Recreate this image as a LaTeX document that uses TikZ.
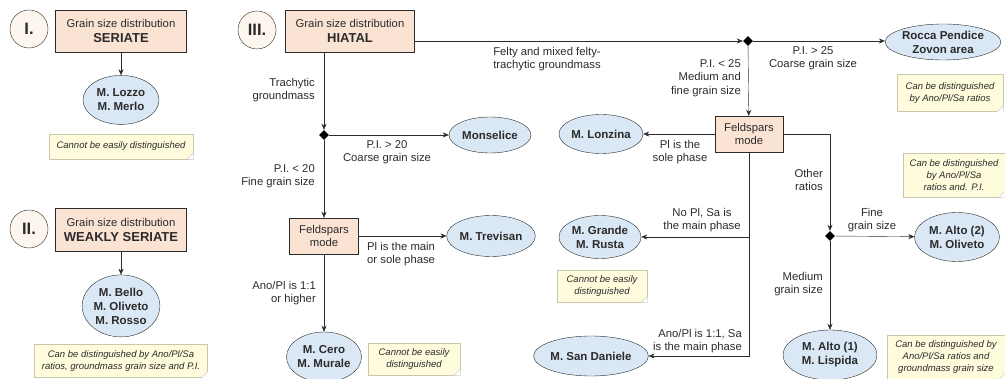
\documentclass[tikz,border=0pt]{standalone}
\usepackage{fontspec}
\setmainfont{Liberation Sans}
\usepackage{tikz}
\usetikzlibrary{arrows.meta,calc,positioning,shapes}

\definecolor{boxfill}{HTML}{FBE3D4}
\definecolor{ovalfill}{HTML}{DAE8F5}
\definecolor{notefill}{HTML}{FFFCDD}
\definecolor{noteline}{HTML}{C9C6AE}
\definecolor{markfill}{HTML}{FDF6EE}
\definecolor{ink}{HTML}{2B2B2B}

\begin{document}
\begin{tikzpicture}[x=1pt, y=-1pt,
					every node/.style={text=ink, font=\fontsize{11.3}{13.5}\selectfont},
					titlebox/.style={draw=ink, fill=boxfill, minimum height=42pt, align=center, inner sep=0pt},
					fspbox/.style={draw=ink, fill=boxfill, minimum width=69pt, minimum height=36pt, align=center, inner sep=0pt},
					siteoval/.style={ellipse, draw=ink, fill=ovalfill, align=center, inner sep=0pt,
						font=\fontsize{11.5}{14}\selectfont\bfseries},
					notebox/.style={draw=noteline, fill=notefill, align=center, inner sep=0pt,
						font=\fontsize{9.5}{12}\selectfont\itshape},
					romanmark/.style={circle, draw=ink, fill=markfill, minimum size=38pt, inner sep=0pt,
						font=\fontsize{16.5}{18}\selectfont\bfseries},
					splitdot/.style={diamond, fill=black, minimum size=10pt, inner sep=0pt},
					flow/.style={draw=ink, -{Stealth[length=6pt,width=5pt]}},
					cond/.style={inner sep=0pt}
				]
				\useasboundingbox (0,0) rectangle (1005,379);
				\newcommand{\gsd}[1]{Grain size distribution\\[2pt]{\fontsize{13}{15}\selectfont\bfseries #1}}

				% I. seriate
				\node[romanmark] (markI) at (29,29) {I.};
				\node[titlebox, minimum width=131pt] (gsI) at (121,31) {\gsd{SERIATE}};
				\node[siteoval, minimum width=76pt, minimum height=49pt] (lozzo) [below=23pt of gsI] {M. Lozzo\\M. Merlo};
				\node[notebox, minimum width=144pt, minimum height=25pt] (noteI) [below=9pt of lozzo] {Cannot be easily distinguished};

				% II. weakly seriate
				\node[romanmark] (markII) at (29,229) {II.};
				\node[titlebox, minimum width=131pt, minimum height=43pt] (gsII) at (121,230) {\gsd{WEAKLY SERIATE}};
				\node[siteoval, minimum width=77pt, minimum height=62pt] (bello) [below=23pt of gsII] {M. Bello\\M. Oliveto\\M. Rosso};
				\node[notebox, minimum width=173pt, minimum height=33pt] (noteII) at (121,361) {Can be distinguished by Ano/Pl/Sa\\ratios, groundmass grain size and P.I.};

				% III. hiatal
				\node[romanmark] (markIII) at (257,30) {III.};
				\node[titlebox, minimum width=129pt] (gsIII) at (350,31) {\gsd{HIATAL}};

				\node[splitdot] (trach) at (324,135) {};
				\node[siteoval, minimum width=82pt, minimum height=36pt] (monselice) at (490,135) {Monselice};
				\node[fspbox] (fspA) at (324,236) {Feldspars\\mode};
				\node[siteoval, minimum width=87pt, minimum height=41pt] (trevisan) at (491,236) {M. Trevisan};
				\node[siteoval, minimum width=73pt, minimum height=50pt] (cero) at (324,357) {M. Cero\\M. Murale};
				\node[notebox, minimum width=92pt, minimum height=32pt] (noteA) at (414,359) {Cannot be easily\\distinguished};

				\node[splitdot] (felty) at (748,41) {};
				\node[siteoval, minimum width=107pt, minimum height=36pt] (rocca) at (943,42) {Rocca Pendice\\Zovon area};
				\node[notebox, minimum width=106pt, minimum height=37pt] (noteB) at (950,93) {Can be distinguished\\by Ano/Pl/Sa ratios};
				\node[fspbox, minimum width=68pt] (fspB) at (749,134) {Feldspars\\mode};
				\node[siteoval, minimum width=77pt, minimum height=39pt] (lonzina) at (601,134) {M. Lonzina};
				\node[siteoval, minimum width=82pt, minimum height=43pt] (grande) at (600,237) {M. Grande\\M. Rusta};
				\node[notebox, minimum width=90pt, minimum height=32pt] (noteC) at (602,286) {Cannot be easily\\distinguished};
				\node[siteoval, minimum width=106pt, minimum height=40pt] (daniele) at (591,356) {M. San Daniele};
				\node[splitdot] (ratios) at (830,236) {};
				\node[siteoval, minimum width=85pt, minimum height=49pt] (alto2) at (957,237) {M. Alto (2)\\M. Oliveto};
				\node[notebox, minimum width=102pt, minimum height=44pt] (noteD) at (954,175) {Can be distinguished\\by Ano/Pl/Sa\\ratios and. P.I.};
				\node[siteoval, minimum width=94pt, minimum height=50pt] (alto1) at (830,355) {M. Alto (1)\\M. Lispida};
				\node[notebox, minimum width=118pt, minimum height=44pt] (noteE) at (946,357) {Can be distinguished by\\Ano/Pl/Sa ratios and\\groundmass grain size};

				% folded note corners
				\foreach \n in {noteI,noteII,noteA,noteB,noteC,noteD,noteE}{
					\fill[white] ($(\n.south east)+(-6,0)$) -- ($(\n.south east)+(0.5,0.5)$) -- ($(\n.south east)+(0,-6)$) -- cycle;
					\filldraw[draw=noteline, fill=noteline!60] ($(\n.south east)+(-6,0)$) -- ($(\n.south east)+(0,-6)$) -- ($(\n.south east)+(-4,-2)$) -- cycle;
				}

				% conditions
				\node[cond, align=center] (cFelty) at (547,59) {Felty and mixed felty-\\trachytic groundmass};
				\node[cond, align=center] (cCoarse25) at (813,58) {P.I. > 25\\Coarse grain size};
				\node[cond, align=right, anchor=east] (cFine25) at (741,78) {P.I. < 25\\Medium and\\fine grain size};
				\node[cond, align=right, anchor=east] (cTrach) at (315,90) {Trachytic\\groundmass};
				\node[cond, align=center] (cCoarse20) at (387,152) {P.I. > 20\\Coarse grain size};
				\node[cond, align=right, anchor=east] (cFine20) at (315,176) {P.I. < 20\\Fine grain size};
				\node[cond, align=left, anchor=west] (cMain) at (367,254) {Pl is the main\\or sole phase};
				\node[cond, align=right, anchor=east] (cHigher) at (316,293) {Ano/Pl is 1:1\\or higher};
				\node[cond, align=center] (cSole) at (680,152) {Pl is the\\sole phase};
				\node[cond, align=center] (cNoPl) at (702,220) {No Pl, Sa is\\the main phase};
				\node[cond, align=right, anchor=east] (cSa) at (742,341) {Ano/Pl is 1:1, Sa\\is the main phase};
				\node[cond, align=right, anchor=east] (cOther) at (823,180) {Other\\ratios};
				\node[cond, align=center] (cFineG) at (872,220) {Fine\\grain size};
				\node[cond, align=right, anchor=east] (cMedium) at (823,284) {Medium\\grain size};

				% connectors
				\draw[flow] (gsI) -- (lozzo);
				\draw[flow] (gsII) -- (bello);
				\draw[flow] (gsIII.south -| trach) -- (trach.north);
				\draw[flow] (trach) -- (monselice);
				\draw[flow] (trach) -- (fspA);
				\draw[flow] (fspA) -- (trevisan);
				\draw[flow] (fspA) -- (cero);
				\draw[flow] (gsIII.east |- felty) -- (felty.west);
				\draw[flow] (felty) -- (felty -| rocca.west);
				\draw[flow] (felty) -- (fspB);
				\draw[flow] (fspB) -- (lonzina);
				\draw[flow] (fspB.south) |- (daniele.east);
				\draw[flow] (fspB.south |- grande) -- (grande.east);
				\draw[flow] (fspB.east) -| (ratios.north);
				\draw[flow] (ratios) -- (alto2);
				\draw[flow] (ratios) -- (alto1);
			\end{tikzpicture}
\end{document}
